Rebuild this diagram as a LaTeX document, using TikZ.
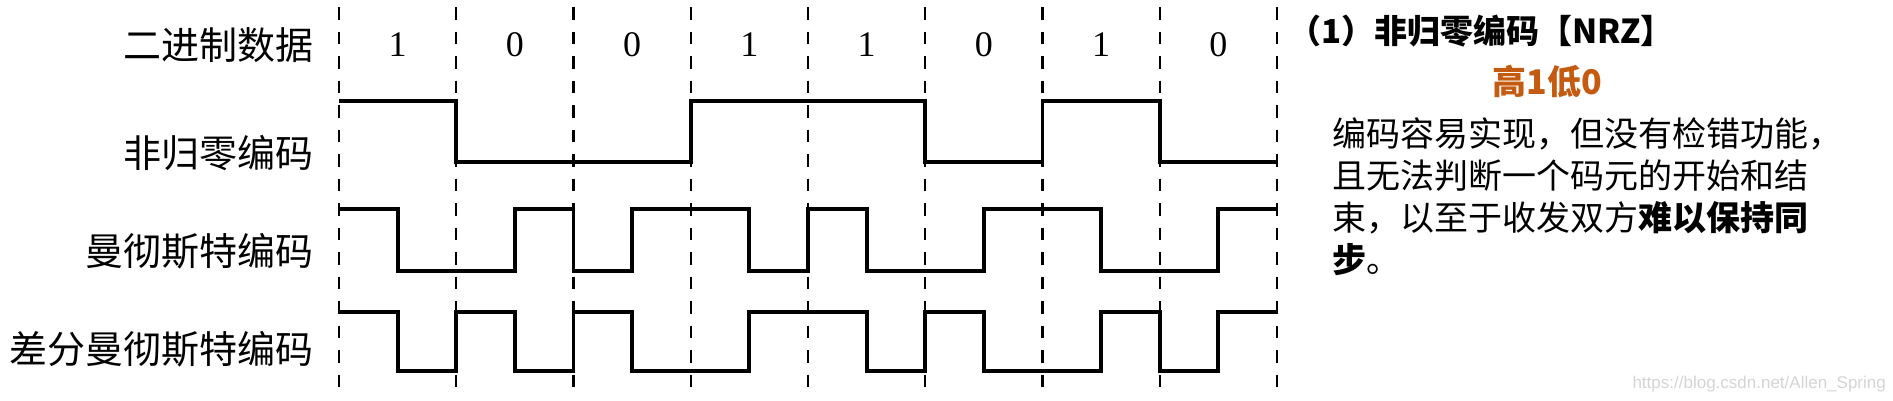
\documentclass[tikz,border=0pt]{standalone}
\usepackage{fontspec}
\setmainfont{Liberation Serif}
\newfontfamily\cjk{Noto Sans CJK SC}
\newfontfamily\wmfont{Liberation Sans}
\usetikzlibrary{positioning}

\definecolor{hilo}{RGB}{197,90,17}
\definecolor{wmgray}{RGB}{212,212,212}

\tikzset{
  lbl/.style={anchor=east, inner sep=0, font=\cjk\fontsize{38}{40}\selectfont},
  bit/.style={inner sep=0, font=\fontsize{36}{38}\selectfont},
  wave/.style={line width=3.8pt, line join=miter},
  grid/.style={line width=2.4pt, dash pattern=on 12.5pt off 12pt},
}

\begin{document}
\begin{tikzpicture}[x=1pt,y=-1pt]
\useasboundingbox (0,0) rectangle (1893,400);

%bit boundaries
\foreach \k in {0,...,8}
  \draw[grid] (339+\k*117.25,7) -- (339+\k*117.25,395);

\node[lbl] (lbin) at (314,45) {二进制数据};
\node[lbl] (lnrz) at (314,153) {非归零编码};
\node[lbl] (lman) at (314,251) {曼彻斯特编码};
\node[lbl] (ldman) at (314,349) {差分曼彻斯特编码};

\foreach \b [count=\i from 0] in {1,0,0,1,1,0,1,0}
  \node[bit] (b\i) at (397.6+\i*117.25,45) {\b};

%NRZ
\draw[wave] (339,101) \foreach \l [count=\i from 0] in {1,0,0,1,1,0,1,0}
  { -- (339+\i*117.25,162-61*\l) -- (456.25+\i*117.25,162-61*\l) };

%Manchester (half cells)
\draw[wave] (339,209) \foreach \l [count=\i from 0] in {1,0,0,1,0,1,1,0,1,0,0,1,1,0,0,1}
  { -- (339+\i*58.625,271-62*\l) -- (397.625+\i*58.625,271-62*\l) };

%differential Manchester (half cells)
\draw[wave] (339,312) \foreach \l [count=\i from 0] in {1,0,1,0,1,0,0,1,1,0,1,0,0,1,0,1}
  { -- (339+\i*58.625,371-59*\l) -- (397.625+\i*58.625,371-59*\l) };

\node[anchor=west, inner sep=0, font=\cjk\bfseries\fontsize{33}{36}\selectfont] (title) at (1288,31) {（1）非归零编码【NRZ】};
\node[inner sep=0, text=hilo, font=\cjk\bfseries\fontsize{34}{36}\selectfont] (rule) at (1547,82) {高1低0};
\node[anchor=north west, inner sep=0, align=left, font=\cjk\fontsize{34}{42}\selectfont] (desc) at (1332,117)
  {编码容易实现，但没有检错功能，\\且无法判断一个码元的开始和结\\束，以至于收发双方\textbf{难以保持同}\\\textbf{步}。};

%\node (wm) ...
\node[anchor=east, inner sep=0, text=wmgray, font=\wmfont\fontsize{17}{18}\selectfont] (wm) at (1886,384) {https://blog.csdn.net/Allen\_Spring};
\end{tikzpicture}
\end{document}
